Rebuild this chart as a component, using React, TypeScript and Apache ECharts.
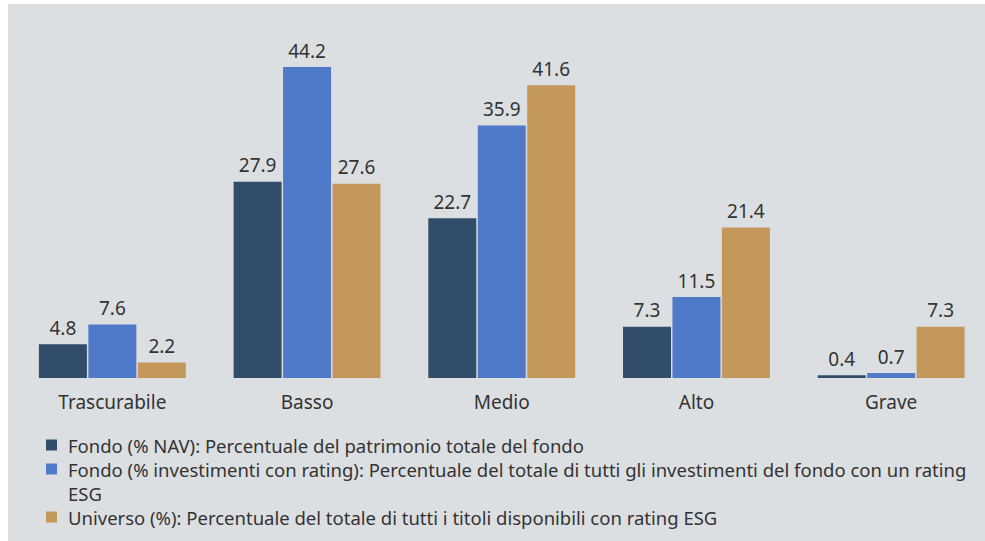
import React, { useEffect, useRef } from "react";
import * as echarts from "echarts";

const categories = ["Trascurabile", "Basso", "Medio", "Alto", "Grave"];
const fondoNav = [4.8, 27.9, 22.7, 7.3, 0.4];
const fondoRating = [7.6, 44.2, 35.9, 11.5, 0.7];
const universo = [2.2, 27.6, 41.6, 21.4, 7.3];
const seriesNames = [
  "Fondo (% NAV): Percentuale del patrimonio totale del fondo",
  "Fondo (% investimenti con rating): Percentuale del totale di tutti gli investimenti del fondo con un rating\nESG",
  "Universo (%): Percentuale del totale di tutti i titoli disponibili con rating ESG",
];
const colors = ["#324d69", "#4f79c9", "#c4975a"];
const FONT = "'Noto Sans', 'Open Sans', sans-serif";
const TEXT = "#333333";

export default function App() {
  const ref = useRef<HTMLDivElement>(null);
  useEffect(() => {
    if (!ref.current) return;
    const chart = echarts.init(ref.current, undefined, { renderer: "svg" });
    const data = [fondoNav, fondoRating, universo];
    const legendRows = [441, 465, 513];
    const graphic: any[] = [];
    seriesNames.forEach((name, i) => {
      graphic.push({
        type: "rect",
        shape: { x: 38, y: legendRows[i] - 5.5, width: 11, height: 11 },
        style: { fill: colors[i] },
      });
      graphic.push({
        type: "text",
        x: 60,
        y: legendRows[i] - 12,
        style: {
          text: name,
          fill: TEXT,
          fontFamily: FONT,
          fontSize: 18.5,
          lineHeight: 24,
          verticalAlign: "top",
        },
      });
    });
    chart.setOption({
      animation: false,
      backgroundColor: "transparent",
      textStyle: { fontFamily: FONT },
      grid: { left: 7, right: 19.5, top: 63, bottom: 163 },
      xAxis: {
        type: "category",
        data: categories,
        axisLine: { show: false },
        axisTick: { show: false },
        axisLabel: { color: TEXT, fontSize: 19, fontFamily: FONT, margin: 14 },
      },
      yAxis: {
        type: "value",
        min: 0,
        max: 44.2,
        show: false,
        splitLine: { show: false },
      },
      series: data.map((d, i) => ({
        type: "bar",
        name: seriesNames[i],
        data: d,
        barWidth: 48,
        barGap: "3%",
        itemStyle: { color: colors[i] },
        label: {
          show: true,
          position: "top",
          distance: 7,
          color: TEXT,
          fontSize: 19,
          fontFamily: FONT,
          formatter: (p: any) => p.value.toFixed(1),
        },
      })),
      graphic,
    });
    return () => chart.dispose();
  }, []);
  return (
    <div
      style={{
        position: "fixed",
        left: 8,
        top: 4,
        width: 977,
        height: 537,
        overflow: "hidden",
        background: "#dcdfe2",
      }}
    >
      <div ref={ref} style={{ width: 1000, height: 537 }} />
    </div>
  );
}
